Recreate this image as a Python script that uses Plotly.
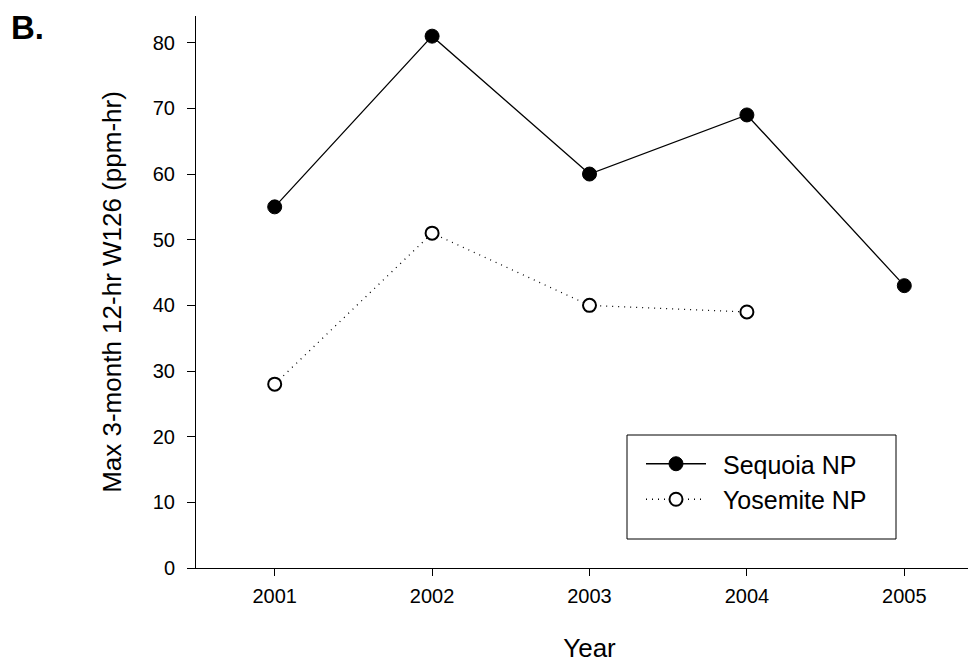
import plotly.graph_objects as go

years_seq = [2001, 2002, 2003, 2004, 2005]
sequoia = [55, 81, 60, 69, 43]
years_yos = [2001, 2002, 2003, 2004]
yosemite = [28, 51, 40, 39]
x_ticks = [2001, 2002, 2003, 2004, 2005]
y_ticks = [0, 10, 20, 30, 40, 50, 60, 70, 80]

FONT = "Liberation Sans, Arial, sans-serif"
GAP = "\u00a0\u2009"

fig = go.Figure()
fig.add_trace(go.Scatter(
    x=years_seq, y=sequoia, name=GAP + "Sequoia NP", mode="lines+markers",
    line=dict(color="black", width=1.3),
    marker=dict(symbol="circle", size=14, color="black", line=dict(color="black", width=1)),
))
fig.add_trace(go.Scatter(
    x=years_yos, y=yosemite, name=GAP + "Yosemite NP", mode="lines+markers",
    line=dict(color="black", width=1.3, dash="1px,5px"),
    marker=dict(symbol="circle", size=13, color="white", line=dict(color="black", width=2)),
))

# page offset of the figure inside the browser window
OFF = 8
W, H = 976, 665
# plot area in window pixels
win_left, win_top, win_bottom, win_right = 196, 16, 568, 983
L = win_left - OFF
T = win_top - OFF
B = H - (win_bottom - OFF)
R = W - (win_right - OFF)
pw = W - L - R
ph = H - T - B

def px_x(p):  # window px -> paper
    return (p - OFF - L) / pw

def px_y(p):
    return (H - B - (p - OFF)) / ph

fig.update_layout(
    width=W, height=H,
    margin=dict(l=L, r=R, t=T, b=B, autoexpand=False),
    paper_bgcolor="white", plot_bgcolor="white",
    font=dict(family=FONT, color="black"),
    showlegend=True,
    legend=dict(
        x=px_x(641), y=px_y(441), xanchor="left", yanchor="top",
        bgcolor="rgba(0,0,0,0)", borderwidth=0,
        font=dict(size=25, family=FONT, color="black"),
        itemwidth=60, tracegroupgap=0,
    ),
    xaxis=dict(
        range=[2000.5, 2005.5], tickmode="array", tickvals=x_ticks,
        ticktext=[str(v) for v in x_ticks],
        showline=True, linecolor="black", linewidth=1,
        ticks="outside", ticklen=7, tickcolor="black", tickwidth=1,
        showgrid=False, zeroline=False,
        tickfont=dict(size=20, family=FONT), ticklabelstandoff=3,
        title=dict(text="Year", font=dict(size=26, family=FONT), standoff=32),
    ),
    yaxis=dict(
        range=[0, 84.07], tickmode="array", tickvals=y_ticks,
        showline=True, linecolor="black", linewidth=1,
        ticks="outside", ticklen=8, tickcolor="black", tickwidth=1,
        showgrid=False, zeroline=False,
        tickfont=dict(size=20, family=FONT), ticklabelstandoff=8,
        title=dict(text="Max 3-month 12-hr W126 (ppm-hr)", font=dict(size=26, family=FONT), standoff=23),
    ),
    shapes=[dict(
        type="rect", xref="paper", yref="paper",
        x0=px_x(627), x1=px_x(896), y0=px_y(539), y1=px_y(435),
        line=dict(color="black", width=1), fillcolor="rgba(0,0,0,0)",
    )],
    annotations=[dict(
        text="<b>B.</b>", xref="paper", yref="paper",
        x=px_x(10), y=px_y(OFF), xanchor="left", yanchor="top",
        borderpad=0, showarrow=False,
        font=dict(size=33, family=FONT, color="black"),
    )],
)

fig.write_html("out.html")
